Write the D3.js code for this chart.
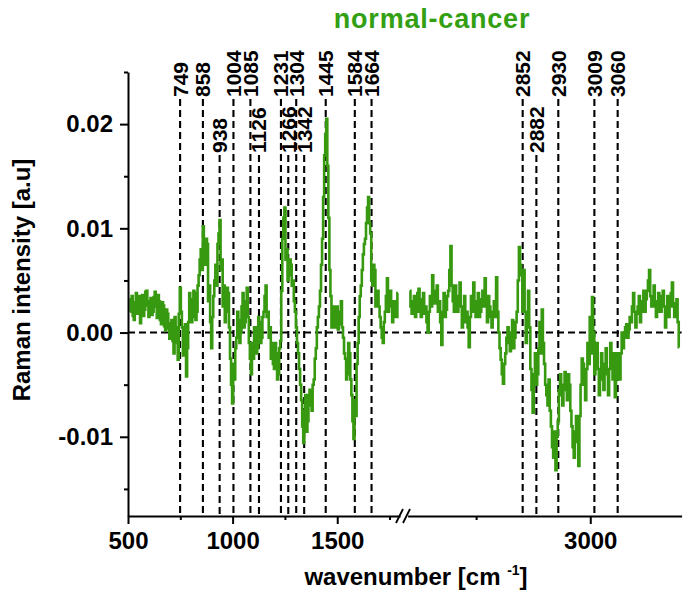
<!DOCTYPE html>
<html>
<head>
<meta charset="utf-8">
<script src="https://cdn.jsdelivr.net/npm/d3@7"></script>
<style>
  body { margin: 0; background: #fff; }
  svg { display: block; font-family: "Liberation Sans", Arial, sans-serif; }
  .axis path, .axis line { stroke: #000; stroke-width: 2; }
  .axis text { font-size: 24px; font-weight: bold; fill: #000; font-family: "Liberation Sans", Arial, sans-serif; }
  .peak { stroke: #000; stroke-width: 2.1; stroke-dasharray: 7 4; fill: none; }
  .peak-label { font-size: 21px; font-weight: bold; fill: #000; }
</style>
</head>
<body>
<svg id="chart" width="695" height="598"></svg>
<script>
// Raman difference spectrum normal-cancer, broken x axis

// intensities in units of 1e-3, sampled every leftStep / rightStep cm-1
const leftStart = 510, leftStep = 5;
const leftIntensity = [
    2.0, 3.2, 3.5, 1.6, 1.2, 2.9, 3.8, 1.8, 2.4, 3.5, 0.9, 2.8, 3.6, 1.6, 2.2, 3.9, 4.0, 2.6, 1.5, 3.0,           // 510-605
    3.3, 1.7, 2.0, 3.4, 3.9, 2.5, 1.4, 3.6, 3.0, 1.2, 0.8, 2.9, 2.6, 0.6, 0.2, 2.2, 1.8, 0.4, -0.6, 0.9,          // 610-705
    1.2, -0.8, -2.0, 1.5, 0.5, -1.0, -2.6, 1.8, 4.3, 2.0, 0.5, -2.2, -1.2, 0.8, -4.2, -1.5, 1.0, 3.8, 3.2, 1.0,   // 710-805
    1.5, 4.0, 3.8, 1.2, 2.0, 4.5, 5.5, 7.0, 8.0, 6.0, 10.2, 7.5, 6.5, 9.0, 8.5, 3.0, 4.5, 1.0, -1.5, 1.5,         // 810-905
    3.5, 5.0, 6.5, 4.5, 8.5, 9.5, 10.8, 6.0, 7.0, 2.5, 4.5, 1.0, 2.0, 4.3, 3.8, 0.5, -2.5, -5.0, -6.8, -3.0,      // 910-1005
    -4.5, -1.5, -0.5, 2.0, 1.2, -1.0, 0.0, 2.5, 3.8, 0.5, 1.0, 3.0, 4.3, 1.5, -1.0, -2.5, -4.0, -1.0, -2.5, 0.5,  // 1010-1105
    0.5, -2.0, -1.5, 1.5, 1.0, -1.0, -0.5, 1.5, 2.0, 3.5, 4.5, 1.5, 2.0, -0.5, 0.5, -2.5, -1.0, -3.0, -3.5, -1.0, // 1110-1205
    -2.0, -4.5, -4.0, -1.5, -0.8, 4.0, 9.0, 11.0, 12.0, 7.0, 8.0, 5.0, 5.5, 7.0, 6.5, 4.5, 5.0, 3.0, 2.0, 0.5,    // 1210-1305
    -1.0, -2.0, -3.5, -5.0, -6.5, -9.0, -10.6, -7.5, -6.0, -9.5, -8.5, -6.0, -5.5, -7.0, -7.5, -5.0, -4.5, -2.5, -1.5, 0.5, // 1310-1405
    1.5, 2.5, 4.0, 6.5, 9.0, 13.0, 17.0, 19.0, 20.5, 16.0, 11.0, 6.0, 3.5, 0.5, 1.0, 2.5, 0.5, 1.8, 2.5, 0.3,     // 1410-1505
    0.8, 2.0, 3.0, 0.5, -0.5, -2.0, -2.5, -4.5, -4.0, -1.0, -2.0, -4.5, -6.0, -8.5, -10.2, -6.5, -8.0, -3.0, -1.0, 1.5, // 1510-1605
    3.5, 4.5, 6.0, 7.5, 8.5, 9.0, 10.5, 12.0, 13.0, 10.5, 9.5, 5.0, 4.5, 6.5, 6.0, 2.5, 3.5, 4.0, 2.5, 1.5,       // 1610-1705
    0.5, -0.5, -1.0, 1.0, 2.0, 3.5, 5.2, 2.0, 2.5, 4.0, 3.0, 1.0, 1.5, 3.0, 2.0, 1.5, 3.8                         // 1710-1790
];

const rightStart = 2605, rightStep = 2.5;
const rightIntensity = [
    4.0, 2.5, 1.8, 3.0, 3.5, 1.5, 2.0, 3.8, 4.2, 2.0, 1.5, 3.2, 3.8, 1.8, 2.5, 1.0, 0.0, 2.0, 3.5, 2.5,           // 2605-2652.5
    5.5, 3.5, 2.8, 4.0, 4.5, 2.0, 3.0, 1.0, -1.2, 2.0, 3.8, 1.5, 2.2, 3.5, 4.0, 6.0, 8.3, 4.5, 3.0, 2.0,          // 2655-2702.5
    4.5, 3.0, 2.0, 3.5, 4.8, 2.5, 0.5, 2.0, 3.5, 1.0, 2.0, 0.5, -1.4, 1.5, 3.5, 2.0, 4.8, 3.0, 1.5, 2.8,          // 2705-2752.5
    3.8, 1.5, 2.0, 3.2, 4.0, 2.5, 5.2, 3.0, 1.0, 3.5, 2.5, 1.5, 0.5, 2.0, 3.0, 1.5, 5.3, 2.0, 0.0, -1.5,          // 2755-2802.5
    -2.6, -4.0, -4.9, -3.0, -2.0, -0.5, 0.5, -1.0, -1.8, 0.0, 1.2, -1.5, -0.5, 1.0, 2.0, 5.0, 8.2, 6.5, 5.5, 2.0, // 2805-2852.5
    6.0, 2.0, -1.0, 1.5, 4.0, 0.5, -3.5, -5.5, -7.7, -4.0, -2.0, -5.0, -4.0, -1.5, 1.0, -2.0, 2.2, -1.0, -3.0, -5.0, // 2855-2902.5
    -6.0, -7.0, -4.5, -7.5, -9.0, -11.0, -12.0, -9.5, -13.2, -10.0, -8.5, -5.5, -4.0, -6.0, -7.0, -5.0, -3.8, -5.5, -6.5, -4.0, // 2905-2952.5
    -5.0, -7.5, -9.0, -11.0, -12.0, -9.5, -8.0, -10.5, -12.8, -8.0, -5.0, -2.5, -3.0, -5.0, -6.5, -3.5, -1.0, -3.0, 1.5, -2.0, // 2955-3002.5
    3.4, 0.0, -4.0, -2.5, -1.0, -3.5, -6.0, -4.5, -2.0, -4.0, -5.5, -3.0, -1.5, -4.0, -6.0, -3.5, -1.0, -2.5, -4.5, -2.0, // 3005-3052.5
    -6.2, -4.5, -2.0, -3.5, -4.5, -2.0, 0.0, -1.5, -0.5, 0.5, 0.8, -0.5, 0.3, 1.5, 1.0, 2.5, 3.8, 2.0, 0.5, 1.8,  // 3055-3102.5
    2.5, 3.5, 1.0, 2.0, 3.0, 4.0, 2.0, 3.2, 4.0, 5.0, 6.0, 3.5, 2.5, 3.0, 4.5, 2.5, 1.5, 3.0, 3.8, 2.0,           // 3105-3152.5
    2.0, 3.5, 4.0, 2.5, 0.5, 2.0, 3.5, 1.5, 2.5, 3.8, 4.8, 2.5, 1.5, 2.8, 3.2, 1.0, -1.4                          // 3155-3195
];

const peaksUpper = [749, 858, 1004, 1085, 1231, 1304, 1445, 1584, 1664, 2852, 2930, 3009, 3060];
const peaksLower = [938, 1126, 1266, 1342, 2882];

const xTicksLeft = [500, 1000, 1500];
const xMinorLeft = [750, 1250, 1750];
const xTicksRight = [3000];
const xMinorRight = [2750];
const yTicks = [-0.01, 0, 0.01, 0.02];
const yMinor = [-0.015, -0.005, 0.005, 0.015, 0.025];

const lineColor = "#36990f";

// ---- scales ----

const svg = d3.select("#chart");
const axisY = 516;

const xL = d3.scaleLinear().domain([500, 1800]).range([128, 400]);
const xR = d3.scaleLinear().domain([2600, 3200]).range([407.6, 681.6]);
const y = d3.scaleLinear().domain([-0.0176, 0.025]).range([axisY, 72]);
const xPos = wn => wn < 2200 ? xL(wn) : xR(wn);

const leftData = leftIntensity.map((v, i) => [leftStart + i * leftStep, v / 1000]);
const rightData = rightIntensity.map((v, i) => [rightStart + i * rightStep, v / 1000]);

// ---- reference lines ----

svg.append("line")
    .attr("class", "peak")
    .attr("x1", xL(500)).attr("x2", xR(3200))
    .attr("y1", y(0)).attr("y2", y(0));

const peaks = peaksUpper.map(p => ({ wn: p, top: 99 }))
    .concat(peaksLower.map(p => ({ wn: p, top: 155 })));

svg.selectAll(".peak-v")
    .data(peaks).enter().append("line")
    .attr("class", "peak")
    .attr("x1", d => xPos(d.wn)).attr("x2", d => xPos(d.wn))
    .attr("y1", d => d.top).attr("y2", axisY);

svg.selectAll(".peak-label")
    .data(peaks).enter().append("text")
    .attr("class", "peak-label")
    .attr("transform", d => `translate(${xPos(d.wn) + 7.5},${d.top - 2}) rotate(-90)`)
    .text(d => d.wn);

// ---- spectrum ----

// step curve gives the blocky look of the dense original trace
const line = d3.line().curve(d3.curveStep).x(d => xPos(d[0])).y(d => y(d[1]));

[leftData, rightData].forEach(seg => {
    svg.append("path")
        .datum(seg)
        .attr("fill", "none")
        .attr("stroke", lineColor)
        .attr("stroke-width", 2.6)
        .attr("d", line);
});

// ---- axes ----

function drawX(scale, major, minor) {
    svg.append("g").attr("class", "axis")
        .attr("transform", `translate(0,${axisY})`)
        .call(d3.axisBottom(scale).tickValues(major).tickSize(8).tickSizeOuter(0).tickPadding(8).tickFormat(d3.format("d")));
    svg.append("g").attr("class", "axis")
        .attr("transform", `translate(0,${axisY})`)
        .call(d3.axisBottom(scale).tickValues(minor).tickSize(4).tickSizeOuter(0).tickFormat(""))
        .select(".domain").remove();
}
drawX(xL, xTicksLeft, xMinorLeft);
drawX(xR, xTicksRight, xMinorRight);

const fmtY = d => d3.format(".2f")(d).replace("\u2212", "-");
svg.append("g").attr("class", "axis")
    .attr("transform", `translate(${xL(500)},0)`)
    .call(d3.axisLeft(y).tickValues(yTicks).tickSize(8).tickSizeOuter(0).tickPadding(7).tickFormat(fmtY));
svg.append("g").attr("class", "axis")
    .attr("transform", `translate(${xL(500)},0)`)
    .call(d3.axisLeft(y).tickValues(yMinor).tickSize(4).tickSizeOuter(0).tickFormat(""))
    .select(".domain").remove();

// break marks
svg.selectAll(".brk")
    .data([396, 403]).enter().append("line")
    .attr("x1", d => d).attr("y1", axisY + 7)
    .attr("x2", d => d + 7).attr("y2", axisY - 7)
    .attr("stroke", "#000").attr("stroke-width", 1.8);

// ---- titles ----

svg.append("text")
    .attr("x", 432).attr("y", 28)
    .attr("text-anchor", "middle")
    .attr("font-size", 27).attr("font-weight", "bold")
    .attr("letter-spacing", 0.8)
    .attr("fill", "#32a012")
    .text("normal-cancer");

const xt = svg.append("text")
    .attr("x", 416).attr("y", 585)
    .attr("text-anchor", "middle")
    .attr("font-size", 24).attr("font-weight", "bold");
xt.append("tspan").text("wavenumber [cm ");
xt.append("tspan").attr("font-size", 14).attr("dy", -10).text("-1");
xt.append("tspan").attr("dy", 10).text("]");

svg.append("text")
    .attr("transform", "translate(30,280) rotate(-90)")
    .attr("text-anchor", "middle")
    .attr("font-size", 24).attr("font-weight", "bold")
    .text("Raman intensity [a.u]");
</script>
</body>
</html>
